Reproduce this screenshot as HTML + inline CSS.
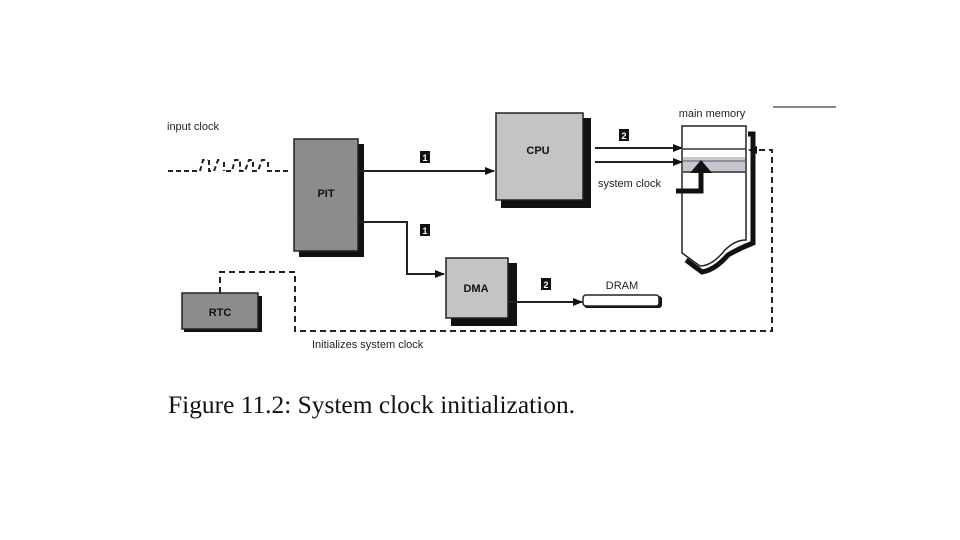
<!DOCTYPE html>
<html><head><style>
html,body{margin:0;padding:0;background:#fff;}
svg{display:block;}
text{font-family:"Liberation Sans",Arial,sans-serif;}
</style></head><body>
<svg width="960" height="540" viewBox="0 0 960 540" xmlns="http://www.w3.org/2000/svg">
<defs>
<marker id="ah" markerWidth="10" markerHeight="8" refX="9" refY="4" orient="auto" markerUnits="userSpaceOnUse">
<path d="M0,0 L10,4 L0,8 z" fill="#111"/></marker>
</defs>
<rect width="960" height="540" fill="#fff"/>
<line x1="773" y1="107" x2="836" y2="107" stroke="#111" stroke-width="1"/>
<text x="167" y="130" font-size="11" fill="#222">input clock</text>
<path d="M168,171 H200 M200,171 L203,160 H208 M209,160 V171 H214 L218,160 H222 M224,162 V171 M226,171 H232 L235,160 H240 V171 H245 L249,160 H253 V171 H258 L262,160 H266 M268,162 V171 H290" stroke="#222" stroke-width="2" fill="none" stroke-dasharray="5,3"/>
<rect x="299" y="144" width="65" height="113" fill="#111"/>
<rect x="294" y="139" width="64" height="112" fill="#8c8c8c" stroke="#222" stroke-width="1.5"/>
<text x="326" y="197" font-size="11" font-weight="bold" text-anchor="middle" fill="#111">PIT</text>
<rect x="501" y="118" width="90" height="90" fill="#111"/>
<rect x="496" y="113" width="87" height="87" fill="#c4c4c4" stroke="#222" stroke-width="1.5"/>
<text x="538" y="154" font-size="11" font-weight="bold" text-anchor="middle" fill="#111">CPU</text>
<rect x="451" y="263" width="66" height="63" fill="#111"/>
<rect x="446" y="258" width="62" height="60" fill="#c4c4c4" stroke="#222" stroke-width="1.5"/>
<text x="476" y="292" font-size="11" font-weight="bold" text-anchor="middle" fill="#111">DMA</text>
<rect x="184" y="296" width="78" height="36" fill="#111"/>
<rect x="182" y="293" width="76" height="36" fill="#8c8c8c" stroke="#222" stroke-width="1.5"/>
<text x="220" y="316" font-size="11" font-weight="bold" text-anchor="middle" fill="#111">RTC</text>
<line x1="358" y1="171" x2="494" y2="171" stroke="#222" stroke-width="2" marker-end="url(#ah)"/>
<rect x="420" y="151" width="10" height="12" fill="#111"/><text x="425" y="161" font-size="9" font-weight="bold" fill="#fff" text-anchor="middle">1</text>
<path d="M358,222 H407 V274 H444" stroke="#222" stroke-width="2" fill="none" marker-end="url(#ah)"/>
<rect x="420" y="224" width="10" height="12" fill="#111"/><text x="425" y="234" font-size="9" font-weight="bold" fill="#fff" text-anchor="middle">1</text>
<line x1="508" y1="302" x2="582" y2="302" stroke="#222" stroke-width="2" marker-end="url(#ah)"/>
<rect x="541" y="278" width="10" height="12" fill="#111"/><text x="546" y="288" font-size="9" font-weight="bold" fill="#fff" text-anchor="middle">2</text>
<rect x="584" y="296" width="78" height="12" rx="3" fill="#111"/>
<rect x="583" y="295" width="76" height="11" rx="3" fill="#fff" stroke="#222" stroke-width="1.5"/>
<text x="622" y="289" font-size="11" fill="#222" text-anchor="middle">DRAM</text>
<line x1="595" y1="148" x2="682" y2="148" stroke="#222" stroke-width="2" marker-end="url(#ah)"/>
<line x1="595" y1="162" x2="682" y2="162" stroke="#222" stroke-width="2" marker-end="url(#ah)"/>
<rect x="619" y="129" width="10" height="12" fill="#111"/><text x="624" y="139" font-size="9" font-weight="bold" fill="#fff" text-anchor="middle">2</text>
<text x="598" y="187" font-size="11" fill="#222">system clock</text>
<path d="M748,134 H753 V243 Q740,248 728,255 Q715,270 702,272 L686,260" fill="none" stroke="#111" stroke-width="5"/>
<path d="M682,126 H746 V240 Q735,240 725,250 Q712,266 700,266 L682,253 Z" fill="#fff" stroke="#222" stroke-width="1.5"/>
<rect x="683" y="157" width="62" height="16" fill="#c8c8cc"/>
<line x1="683" y1="149" x2="746" y2="149" stroke="#334" stroke-width="1.5"/>
<line x1="683" y1="161" x2="746" y2="161" stroke="#557" stroke-width="1"/>
<line x1="683" y1="172" x2="746" y2="172" stroke="#334" stroke-width="1.5"/>
<text x="712" y="117" font-size="11" fill="#222" text-anchor="middle">main memory</text>
<path d="M676,191 H701 V172" stroke="#111" stroke-width="5" fill="none"/>
<path d="M690,173 L701,160 L712,173 Z" fill="#111"/>
<path d="M220,293 V272 H295 V331 H772 V150 H756" stroke="#222" stroke-width="2" fill="none" stroke-dasharray="6,4"/>
<path d="M748,150 L757,146 L757,154 Z" fill="#111"/>
<text x="312" y="348" font-size="11" fill="#222">Initializes system clock</text>
<text x="168" y="413" font-size="25" fill="#111" textLength="407" lengthAdjust="spacingAndGlyphs" style="font-family:'Liberation Serif',serif">Figure 11.2: System clock initialization.</text>
</svg>
</body></html>
